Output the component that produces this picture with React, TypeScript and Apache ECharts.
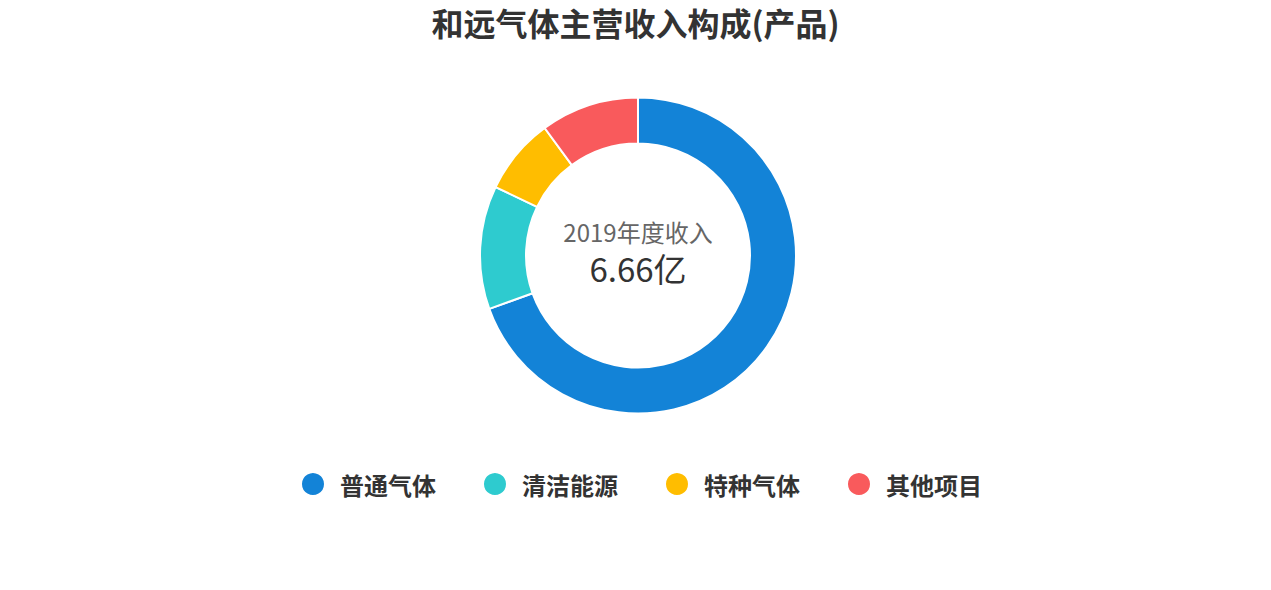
import { useEffect, useRef } from 'react'
import * as echarts from 'echarts'

const categories = ['普通气体', '清洁能源', '特种气体', '其他项目']
const revenue = [4.63, 0.84, 0.52, 0.67]
const colors = ['#1383d7', '#2ecbcf', '#ffbd00', '#f95a5c']
const titleText = '和远气体主营收入构成(产品)'
const centerLabel = '2019年度收入'
const centerValue = '6.66亿'

const FONT = '"Noto Sans CJK SC", "Noto Sans", sans-serif'

export default function App() {
  const chartRef = useRef<HTMLDivElement>(null)

  useEffect(() => {
    if (!chartRef.current) return
    document.body.style.margin = '0'

    const chart = echarts.init(chartRef.current, undefined, { renderer: 'svg' })

    const option = {
      animation: false,
      color: colors,
      title: {
        text: titleText,
        left: 'center',
        top: 1,
        textStyle: {
          fontFamily: FONT,
          fontSize: 32,
          fontWeight: 'bold',
          color: '#333',
        },
      },
      legend: {
        data: categories,
        left: 295,
        top: 466,
        icon: 'circle',
        itemWidth: 44,
        itemHeight: 24,
        itemGap: 46,
        textStyle: {
          fontFamily: FONT,
          fontSize: 24,
          fontWeight: 'bold',
          color: '#333',
        },
      },
      graphic: [
        {
          type: 'text',
          x: 638,
          y: 231,
          style: {
            text: centerLabel,
            fontFamily: FONT,
            fontSize: 24,
            fill: '#666',
            textAlign: 'center',
            textVerticalAlign: 'middle',
          },
        },
        {
          type: 'text',
          x: 638,
          y: 268,
          style: {
            text: centerValue,
            fontFamily: FONT,
            fontSize: 33,
            fill: '#333',
            textAlign: 'center',
            textVerticalAlign: 'middle',
          },
        },
      ],
      series: [
        {
          type: 'pie',
          center: [638, 255.5],
          radius: [112, 158],
          startAngle: 90,
          clockwise: true,
          label: { show: false },
          labelLine: { show: false },
          itemStyle: {
            borderColor: '#fff',
            borderWidth: 2,
          },
          emphasis: { scale: false },
          data: categories.map((name, i) => ({ name, value: revenue[i] })),
        },
      ],
    }

    chart.setOption(option)

    const handleResize = () => chart.resize()
    window.addEventListener('resize', handleResize)

    return () => {
      window.removeEventListener('resize', handleResize)
      chart.dispose()
    }
  }, [])

  return <div ref={chartRef} style={{ width: '1271px', height: '590px' }} />
}
